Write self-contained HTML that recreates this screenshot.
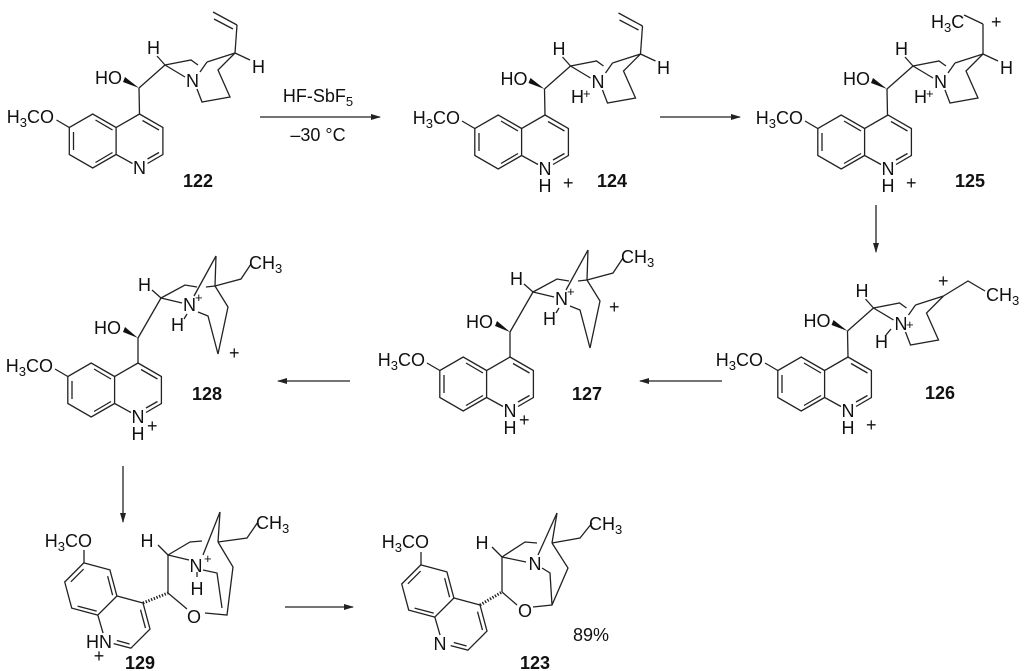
<!DOCTYPE html>
<html><head><meta charset="utf-8"><style>
html,body{margin:0;padding:0;background:#fff;}
svg{display:block;font-family:"Liberation Sans",Arial,sans-serif;}
text{font-size:18px;fill:#111;}
.b{font-weight:bold;}
.s{font-size:13px;}
</style></head><body>
<svg width="1024" height="671" viewBox="0 0 1024 671" xmlns="http://www.w3.org/2000/svg">
<defs>
<marker id="ah" markerWidth="10" markerHeight="8" refX="9" refY="4" orient="auto" markerUnits="userSpaceOnUse"><path d="M0,1 L10,4 L0,7 Z" fill="#222"/></marker>
<g id="q" stroke="#222" stroke-width="1.3" fill="none">
<polyline points="0,0 23.4,13.5 23.4,40.5 8,49.5"/>
<polyline points="-7,49.5 -23.4,40.5 -23.4,13.5 0,0"/>
<polyline points="-23.4,13.5 -46.8,0 -70.2,13.5 -70.2,40.5 -46.8,54 -23.4,40.5"/>
<line x1="-70.2" y1="13.5" x2="-83" y2="6"/>
<line x1="3" y1="6.5" x2="19.5" y2="16"/>
<line x1="19.5" y1="38.5" x2="8" y2="45"/>
<line x1="-27" y1="16" x2="-44" y2="6"/>
<line x1="-66" y1="18" x2="-66" y2="36"/>
<line x1="-44" y1="48.5" x2="-27" y2="38.5"/>
</g>
<g id="qr" stroke="#222" stroke-width="1.3" fill="none">
<polyline points="0,0 23.4,13.5 23.4,40.5 8,49.5"/>
<polyline points="-7,49.5 -23.4,40.5 -23.4,13.5 0,0"/>
<polyline points="-23.4,13.5 -46.8,0 -70.2,13.5 -70.2,40.5 -46.8,54 -23.4,40.5"/>
<line x1="3" y1="6.5" x2="19.5" y2="16"/>
<line x1="19.5" y1="38.5" x2="8" y2="45"/>
<line x1="-27" y1="16" x2="-44" y2="6"/>
<line x1="-66" y1="18" x2="-66" y2="36"/>
<line x1="-44" y1="48.5" x2="-27" y2="38.5"/>
</g>
<g id="core1">
<g stroke="#222" stroke-width="1.3" fill="none">
<line x1="139.5" y1="114" x2="139" y2="88"/>
<line x1="139" y1="88" x2="165" y2="65"/>
<line x1="165" y1="65" x2="157" y2="56"/>
<polyline points="165,65 191,60 198,65"/>
<line x1="165" y1="65" x2="185" y2="77"/>
<line x1="200" y1="72" x2="207" y2="62"/>
<line x1="207" y1="62" x2="235" y2="53"/>
<polyline points="235,53 218,70 230,97 202,102 197,89"/>
</g>
<polygon points="139,88 125,77 123,82" fill="#111"/>
<text x="95" y="84">HO</text>
<text x="147" y="54">H</text>
<text x="186" y="87">N</text>
</g>
<g id="core2">
<g stroke="#222" stroke-width="1.3" fill="none">
<line x1="510" y1="357" x2="510" y2="332"/>
<line x1="510" y1="332" x2="533" y2="292"/>
<line x1="533" y1="292" x2="524" y2="284"/>
<line x1="533" y1="292" x2="554" y2="297"/>
<polyline points="533,292 557,279 569,281"/>
<line x1="578" y1="281" x2="587" y2="280"/>
<line x1="588" y1="250" x2="566" y2="290"/>
<line x1="588" y1="250" x2="587" y2="280"/>
<polyline points="587,280 613,273 623,258"/>
<polyline points="570,306 580,310 590,348 600,301 587,280"/>
<line x1="556" y1="313" x2="559" y2="308"/>
</g>
<polygon points="510,332 497,321 495,326" fill="#111"/>
<text x="466" y="328">HO</text>
<text x="510" y="285">H</text>
<text x="555" y="305">N</text>
<text x="567" y="296" class="s">+</text>
<text x="543" y="325">H</text>
<text x="621" y="263">CH<tspan class="s" dy="4">3</tspan></text>
</g>
</defs>

<use href="#q" transform="translate(139.5,114)"/>
<use href="#q" transform="translate(545,115)"/>
<use href="#q" transform="translate(888,115)"/>
<use href="#q" transform="translate(848,357)"/>
<use href="#q" transform="translate(510,357)"/>
<use href="#q" transform="translate(138,363)"/>
<use href="#qr" transform="translate(143,603) rotate(45)"/>
<use href="#qr" transform="translate(480,605) rotate(45)"/>

<text x="54" y="123" text-anchor="end">H<tspan class="s" dy="4">3</tspan><tspan dy="-4">CO</tspan></text>
<text x="460" y="124" text-anchor="end">H<tspan class="s" dy="4">3</tspan><tspan dy="-4">CO</tspan></text>
<text x="803" y="124" text-anchor="end">H<tspan class="s" dy="4">3</tspan><tspan dy="-4">CO</tspan></text>
<text x="763" y="366" text-anchor="end">H<tspan class="s" dy="4">3</tspan><tspan dy="-4">CO</tspan></text>
<text x="425" y="366" text-anchor="end">H<tspan class="s" dy="4">3</tspan><tspan dy="-4">CO</tspan></text>
<text x="53" y="372" text-anchor="end">H<tspan class="s" dy="4">3</tspan><tspan dy="-4">CO</tspan></text>
<line x1="84" y1="563" x2="84" y2="550" stroke="#222" stroke-width="1.3"/>
<text x="92" y="547" text-anchor="end">H<tspan class="s" dy="4">3</tspan><tspan dy="-4">CO</tspan></text>
<line x1="421" y1="565" x2="421" y2="552" stroke="#222" stroke-width="1.3"/>
<text x="429" y="548" text-anchor="end">H<tspan class="s" dy="4">3</tspan><tspan dy="-4">CO</tspan></text>

<text x="139.5" y="174" text-anchor="middle">N</text>
<text x="545" y="175" text-anchor="middle">N</text><text x="545" y="192" text-anchor="middle">H</text><text x="563" y="189">+</text>
<text x="888" y="175" text-anchor="middle">N</text><text x="888" y="192" text-anchor="middle">H</text><text x="906" y="189">+</text>
<text x="848" y="417" text-anchor="middle">N</text><text x="848" y="434" text-anchor="middle">H</text><text x="866" y="431">+</text>
<text x="510" y="417" text-anchor="middle">N</text><text x="510" y="434" text-anchor="middle">H</text><text x="519" y="426">+</text>
<text x="138" y="423" text-anchor="middle">N</text><text x="138" y="440" text-anchor="middle">H</text><text x="147" y="432">+</text>
<text x="112" y="648" text-anchor="end">HN</text><text x="99" y="662" text-anchor="middle">+</text>
<text x="440" y="650" text-anchor="middle">N</text>

<use href="#core1"/>
<use href="#core1" transform="translate(405.5,1)"/>
<use href="#core1" transform="translate(748,1)"/>
<use href="#core1" transform="translate(708.5,243)"/>
<g stroke="#222" stroke-width="1.3" fill="none">
<line x1="235" y1="53" x2="237" y2="25"/><line x1="237" y1="25" x2="213" y2="12"/><line x1="233" y1="29" x2="214" y2="19"/>
<line x1="235" y1="53" x2="250" y2="60"/>
<line x1="640.5" y1="54" x2="642.5" y2="26"/><line x1="642.5" y1="26" x2="618.5" y2="13"/><line x1="638.5" y1="30" x2="619.5" y2="20"/>
<line x1="640.5" y1="54" x2="655.5" y2="61"/>
<line x1="983" y1="54" x2="983" y2="24"/><line x1="983" y1="24" x2="964" y2="15"/>
<line x1="983" y1="54" x2="998" y2="61"/>
<polyline points="943.5,296 968,281 985,291"/>
<line x1="886" y1="335" x2="891" y2="329"/>
</g>
<text x="252" y="73">H</text>
<text x="657" y="74">H</text>
<text x="1000" y="74">H</text>
<text x="571" y="103">H</text><text x="583" y="98" class="s">+</text>
<text x="914" y="103">H</text><text x="926" y="98" class="s">+</text>
<text x="931" y="28">H<tspan class="s" dy="4">3</tspan><tspan dy="-4">C</tspan></text>
<text x="991" y="28">+</text>
<text x="906" y="329" class="s">+</text>
<text x="875" y="348">H</text>
<text x="938" y="287">+</text>
<text x="986" y="301">CH<tspan class="s" dy="4">3</tspan></text>

<use href="#core2"/>
<use href="#core2" transform="translate(-372,6)"/>
<text x="609" y="313">+</text>
<text x="229" y="359">+</text>

<g stroke="#222" stroke-width="1.3" fill="none">
<line x1="143" y1="603" x2="168" y2="593" stroke-dasharray="1.3,1.6" stroke-width="3"/>
<line x1="168" y1="593" x2="168" y2="555"/>
<line x1="168" y1="555" x2="158" y2="545"/>
<line x1="168" y1="555" x2="189" y2="560"/>
<polyline points="168,555 190,542 202,541"/>
<line x1="220" y1="512" x2="203" y2="555"/>
<line x1="220" y1="512" x2="218" y2="542"/>
<polyline points="218,542 247,538 258,522"/>
<polyline points="218,542 233,567 227,615 205,613"/>
<line x1="168" y1="593" x2="187" y2="609"/>
<polyline points="203,570 217,573 222,608"/>
<line x1="197" y1="572" x2="197" y2="577"/>
</g>
<text x="147" y="547" text-anchor="middle">H</text>
<text x="196" y="572" text-anchor="middle">N</text><text x="204" y="563" class="s">+</text>
<text x="197" y="595" text-anchor="middle">H</text>
<text x="194" y="623" text-anchor="middle">O</text>
<text x="256" y="529">CH<tspan class="s" dy="4">3</tspan></text>

<g stroke="#222" stroke-width="1.3" fill="none">
<line x1="480" y1="605" x2="502" y2="592" stroke-dasharray="1.3,1.6" stroke-width="3"/>
<line x1="502" y1="592" x2="502" y2="557"/>
<line x1="502" y1="557" x2="492" y2="547"/>
<line x1="502" y1="557" x2="526" y2="562"/>
<polyline points="502,557 525,542 537,543"/>
<line x1="557" y1="513" x2="538" y2="555"/>
<line x1="557" y1="513" x2="552" y2="543"/>
<polyline points="552,543 580,538 592,523"/>
<polyline points="552,543 568,568 552,605 533,607"/>
<line x1="502" y1="592" x2="517" y2="605"/>
<polyline points="542,568 550,573 552,605"/>
</g>
<text x="482" y="549" text-anchor="middle">H</text>
<text x="535" y="570" text-anchor="middle">N</text>
<text x="525" y="617" text-anchor="middle">O</text>
<text x="589" y="530">CH<tspan class="s" dy="4">3</tspan></text>
<text x="573" y="641">89%</text>

<g stroke="#222" stroke-width="1.3" marker-end="url(#ah)">
<line x1="260" y1="117" x2="380" y2="117"/>
<line x1="660" y1="117" x2="740" y2="117"/>
<line x1="876" y1="205" x2="876" y2="252"/>
<line x1="722" y1="381" x2="640" y2="381"/>
<line x1="350" y1="381" x2="278" y2="381"/>
<line x1="123" y1="466" x2="123" y2="522"/>
<line x1="285" y1="607" x2="353" y2="607"/>
</g>
<text x="318" y="102" text-anchor="middle">HF-SbF<tspan class="s" dy="4">5</tspan></text>
<text x="318" y="141" text-anchor="middle">–30 °C</text>

<text x="198" y="187" text-anchor="middle" class="b">122</text>
<text x="612" y="187" text-anchor="middle" class="b">124</text>
<text x="970" y="187" text-anchor="middle" class="b">125</text>
<text x="940" y="399" text-anchor="middle" class="b">126</text>
<text x="587" y="400" text-anchor="middle" class="b">127</text>
<text x="207" y="400" text-anchor="middle" class="b">128</text>
<text x="140" y="669" text-anchor="middle" class="b">129</text>
<text x="535" y="669" text-anchor="middle" class="b">123</text>
</svg>
</body></html>
